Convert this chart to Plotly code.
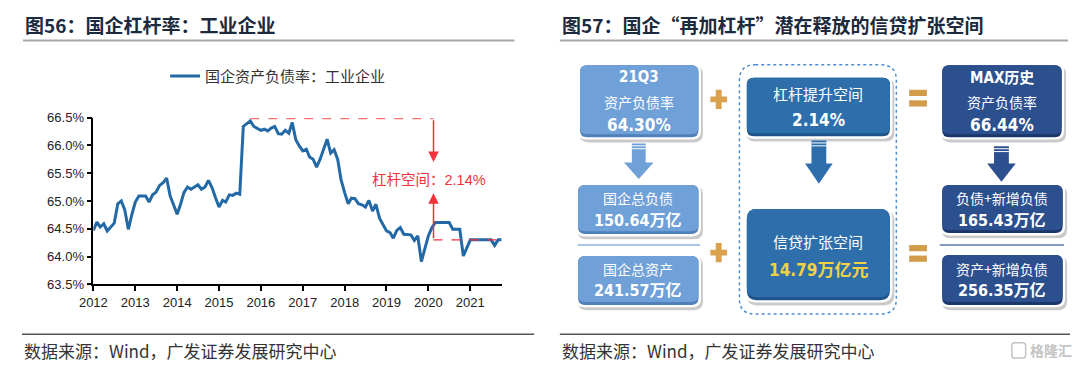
import plotly.graph_objects as go
import pandas as pd

# page is 1080x377; the page body keeps an 8px margin, so the figure itself is 1064x361
PAGE_W, PAGE_H = 1080, 377
OFF = 8
W, H = PAGE_W - 2 * OFF, PAGE_H - 2 * OFF

# ---------------- data ----------------
dates = pd.date_range("2012-01-01", periods=118, freq="MS")
ratio = [
    64.47, 64.62, 64.53, 64.59, 64.46, 64.53, 64.60, 64.95, 65.00, 64.84, 64.49, 64.75,
    64.98, 65.09, 65.09, 65.09, 64.98, 65.11, 65.16, 65.28, 65.33, 65.41, 65.09, 64.92,
    64.76, 64.95, 65.15, 65.25, 65.21, 65.25, 65.29, 65.21, 65.25, 65.37, 65.24, 65.06,
    64.89, 65.01, 64.98, 65.11, 65.10, 65.14, 65.12, 66.34, 66.39, 66.44, 66.34, 66.31,
    66.27, 66.29, 66.26, 66.31, 66.34, 66.21, 66.20, 66.27, 66.22, 66.41, 66.10, 65.99,
    65.90, 65.93, 65.79, 65.75, 65.61, 65.75, 65.93, 66.11, 65.86, 65.92, 65.75, 65.38,
    65.15, 64.95, 65.05, 65.04, 64.95, 64.93, 64.89, 65.01, 64.82, 64.94, 64.69, 64.57,
    64.46, 64.43, 64.33, 64.47, 64.52, 64.40, 64.40, 64.39, 64.29, 64.37, 63.91, 64.13,
    64.37, 64.52, 64.61, 64.61, 64.61, 64.61, 64.61, 64.49, 64.49, 64.49, 64.01, 64.15,
    64.30, 64.30, 64.30, 64.30, 64.30, 64.30, 64.30, 64.20, 64.30, 64.30,
]
year_ticks = pd.date_range("2012-01-01", "2021-01-01", freq="YS")
year_labels = [str(d.year) for d in year_ticks]

series_name = "国企资产负债率：工业企业"
title_left = "图56：国企杠杆率：工业企业"
title_right = "图57：国企“再加杠杆”潜在释放的信贷扩张空间"
source_text = "数据来源：Wind，广发证券发展研究中心"

latest_label = "21Q3"
total_debt = 150.64      # 万亿
total_assets = 241.57    # 万亿
credit_space = 14.79     # 万亿元
debt_plus_new = 165.43   # 万亿
assets_plus_new = 256.35 # 万亿

max_val = max(ratio)
max_idx = ratio.index(max_val)
last_val = ratio[-1]
gap = max_val - last_val
mark_x = "2020-02-15"

RED = "#f2313b"
LINE = "#2369a6"
CJK = "Noto Sans CJK SC"
NUM = "Liberation Sans Narrow, DejaVu Sans Condensed, Liberation Sans, Noto Sans CJK SC"


def fx(x):
    return (x - OFF) / W


def fy(y):
    return 1 - (y - OFF) / H


fig = go.Figure()
fig.add_trace(go.Scatter(x=dates, y=ratio, mode="lines", name=series_name,
                         line=dict(color=LINE, width=3), hoverinfo="skip"))

shapes = []
annos = []

# red markers on the line chart (data coords)
shapes.append(dict(type="line", xref="x", yref="y", x0=dates[max_idx], x1=mark_x,
                   y0=max_val + 0.04, y1=max_val + 0.04,
                   line=dict(color="#ff6f6f", width=1.2, dash="dash")))
shapes.append(dict(type="line", xref="x", yref="y", x0=mark_x, x1=dates[-1],
                   y0=last_val, y1=last_val,
                   line=dict(color=RED, width=1.2, dash="dash")))
annos.append(dict(x=mark_x, y=65.70, ax=mark_x, ay=max_val + 0.04, xref="x", yref="y",
                  axref="x", ayref="y", showarrow=True, arrowhead=2, arrowsize=1.4,
                  arrowwidth=1.5, arrowcolor=RED, text=""))
annos.append(dict(x=mark_x, y=65.14, ax=mark_x, ay=last_val, xref="x", yref="y",
                  axref="x", ayref="y", showarrow=True, arrowhead=2, arrowsize=1.4,
                  arrowwidth=1.5, arrowcolor=RED, text=""))
annos.append(dict(x="2020-01-10", y=65.38, xref="x", yref="y", showarrow=False,
                  text=f"杠杆空间：{gap:.2f}%",
                  font=dict(family="Liberation Sans, " + CJK, size=14.5, color=RED),
                  xanchor="center", yanchor="middle"))


# ---------------- helpers for layout in page-pixel space ----------------
def P(x, y):
    return f"{fx(x):.5f},{fy(y):.5f}"


def rr_path(x0, y0, x1, y1, r):
    return (f"M{P(x0 + r, y0)} L{P(x1 - r, y0)} Q{P(x1, y0)} {P(x1, y0 + r)} "
            f"L{P(x1, y1 - r)} Q{P(x1, y1)} {P(x1 - r, y1)} L{P(x0 + r, y1)} "
            f"Q{P(x0, y1)} {P(x0, y1 - r)} L{P(x0, y0 + r)} Q{P(x0, y0)} {P(x0 + r, y0)} Z")


def poly(points):
    return "M" + " L".join(P(x, y) for x, y in points) + " Z"


def add_path(path, fill, lc="rgba(0,0,0,0)", lw=0, dash=None):
    line = dict(color=lc, width=lw)
    if dash:
        line["dash"] = dash
    shapes.append(dict(type="path", xref="paper", yref="paper", path=path,
                       fillcolor=fill, line=line, layer="above"))


def hline(x0, x1, y, color, width):
    shapes.append(dict(type="line", xref="paper", yref="paper", x0=fx(x0), x1=fx(x1),
                       y0=fy(y), y1=fy(y), line=dict(color=color, width=width)))


def text(x, y, s, size, color="white", family=CJK, bold=False, anchor="center"):
    annos.append(dict(xref="paper", yref="paper", x=fx(x), y=fy(y),
                      text=f"<b>{s}</b>" if bold else s, showarrow=False,
                      xanchor=anchor, yanchor="middle",
                      font=dict(size=size, color=color, family=family)))


# titles, rules, footer
text(9, 18, title_left, 19, "#1b2a3c", bold=True, anchor="left")
text(553, 18, title_right, 19, "#1b2a3c", bold=True, anchor="left")
hline(9, 507, 34.5, "#a8a8a8", 2)
hline(553, 1068, 34.5, "#a8a8a8", 2)
hline(8, 527, 341, "#555555", 1.5)
hline(553, 1070, 341, "#555555", 1.5)
text(8, 358, source_text, 17, "#333333", anchor="left")
text(553, 358, source_text, 17, "#333333", anchor="left")
add_path(rr_path(1011, 350, 1025, 366, 3), "rgba(0,0,0,0)", "#c4c4c4", 1.5)
text(1027, 358, "格隆汇", 14, "#c4c4c4", bold=True, anchor="left")

# ---------------- diagram ----------------
LIGHT = ("#6fa0d8", "#4f80ba")
MID = ("#2e6fab", "#1e5289")
DARK = ("#2c4f8e", "#1b3669")


def box(x0, y0, x1, y1, pal, r=9):
    add_path(rr_path(x0 + 2, y0 + 3, x1 + 2, y1 + 3, r), "rgba(80,80,80,0.30)")
    add_path(rr_path(x0, y0, x1, y1, r), "white")
    add_path(rr_path(x0 + 2.5, y0 + 2.5, x1 - 2.5, y1 - 2.5, r - 2), pal[1])
    add_path(rr_path(x0 + 2.5, y0 + 2.5, x1 - 2.5, y1 - 5.5, r - 2), pal[0])


def down_arrow(cx, yt, ym, yb, sw, hw, color):
    add_path(poly([(cx - sw / 2, yt), (cx + sw / 2, yt), (cx + sw / 2, ym), (cx + hw / 2, ym),
                   (cx, yb), (cx - hw / 2, ym), (cx - sw / 2, ym)]), color)
    for dy in (2.5, 5.5):
        hline(cx - sw / 2, cx + sw / 2, yt + dy, "white", 1)


def plus(cx, cy):
    w, h, t = 17, 20, 6
    add_path(poly([(cx - t / 2, cy - h / 2), (cx + t / 2, cy - h / 2), (cx + t / 2, cy - t / 2),
                   (cx + w / 2, cy - t / 2), (cx + w / 2, cy + t / 2), (cx + t / 2, cy + t / 2),
                   (cx + t / 2, cy + h / 2), (cx - t / 2, cy + h / 2), (cx - t / 2, cy + t / 2),
                   (cx - w / 2, cy + t / 2), (cx - w / 2, cy - t / 2), (cx - t / 2, cy - t / 2)]),
             "#d9a24f")


def equals(x0, y0):
    for dy in (0, 11):
        add_path(poly([(x0, y0 + dy), (x0 + 18, y0 + dy), (x0 + 18, y0 + dy + 6.5), (x0, y0 + dy + 6.5)]),
                 "#d39c4b")


# dotted container
add_path(rr_path(735, 60, 894, 320, 16), "rgba(0,0,0,0)", "#4f8fd0", 1.5, dash="dot")

box(571, 58, 696, 138, LIGHT)
box(740, 71, 890, 137, MID)
box(938, 58, 1064, 138, DARK)
box(569, 183, 696, 239, LIGHT)
box(569, 257, 696, 313, LIGHT)
box(740, 208, 890, 308, MID, r=12)
box(938, 183, 1065, 238, DARK)
box(938, 256, 1065, 313, DARK)

down_arrow(633, 142, 162, 179, 14, 30, "#6fa0d8")
down_arrow(815.5, 139, 163, 184, 15, 28, "#2e6fab")
down_arrow(1000.5, 145, 163, 182, 15, 29, "#2c4f8e")

plus(714, 96)
plus(714, 256)
equals(907, 86)
equals(907, 248)

hline(571, 695, 248, "#8db3e2", 1.5)
hline(938, 1064, 248, "#5a7db5", 1.5)

# texts in boxes
text(633, 73, latest_label, 15, family=NUM, bold=True)
text(633, 99, "资产负债率", 14)
text(633, 123, f"{last_val:.2f}%", 17, family=NUM, bold=True)

text(815, 90, "杠杆提升空间", 15)
text(815, 118, f"{gap:.2f}%", 17, family=NUM, bold=True)

text(1001, 73.5, "MAX历史", 15, family=NUM, bold=True)
text(1001, 99, "资产负债率", 14)
text(1001, 123, f"{max_val:.2f}%", 17, family=NUM, bold=True)

text(632, 199, "国企总负债", 14)
text(632, 222, f"{total_debt:.2f}万亿", 16, family=NUM, bold=True)
text(632, 273, "国企总资产", 14)
text(632, 295, f"{total_assets:.2f}万亿", 16, family=NUM, bold=True)

text(815, 244, "信贷扩张空间", 15)
text(815, 274, f"{credit_space:.2f}万亿元", 17, color="#f3d146", family=NUM, bold=True)

text(1001, 199, "负债+新增负债", 14)
text(1001, 222, f"{debt_plus_new:.2f}万亿", 16, family=NUM, bold=True)
text(1001, 273, "资产+新增负债", 14)
text(1001, 295, f"{assets_plus_new:.2f}万亿", 16, family=NUM, bold=True)

fig.update_layout(
    width=W, height=H, margin=dict(l=0, r=0, t=0, b=0),
    paper_bgcolor="white", plot_bgcolor="rgba(0,0,0,0)",
    font=dict(family="Liberation Sans, " + CJK, size=13, color="#222222"),
    showlegend=True,
    legend=dict(x=fx(153), y=fy(72), xanchor="left", yanchor="middle", orientation="h",
                font=dict(size=15, family=CJK, color="#333333"), bgcolor="rgba(0,0,0,0)",
                itemwidth=30),
    xaxis=dict(domain=[fx(80.3), fx(494)], type="date", range=[dates[0], dates[-1]],
               tickvals=year_ticks, ticktext=year_labels, ticks="outside", ticklen=5,
               tickwidth=1.5, tickcolor="black", showline=True, linecolor="black", linewidth=1.5,
               showgrid=False, zeroline=False, tickfont=dict(size=13, color="#222222"),
               fixedrange=True),
    yaxis=dict(domain=[fy(289), fy(115)], range=[63.5, 66.5], dtick=0.5,
               tickformat=".1f", ticksuffix="%", ticks="outside", ticklen=5, tickwidth=1.5,
               tickcolor="black", showline=True, linecolor="black", linewidth=1.5,
               showgrid=False, zeroline=False, tickfont=dict(size=13, color="#222222"),
               fixedrange=True),
    shapes=shapes, annotations=annos,
)

fig.write_html("out.html", config={"displayModeBar": False})
